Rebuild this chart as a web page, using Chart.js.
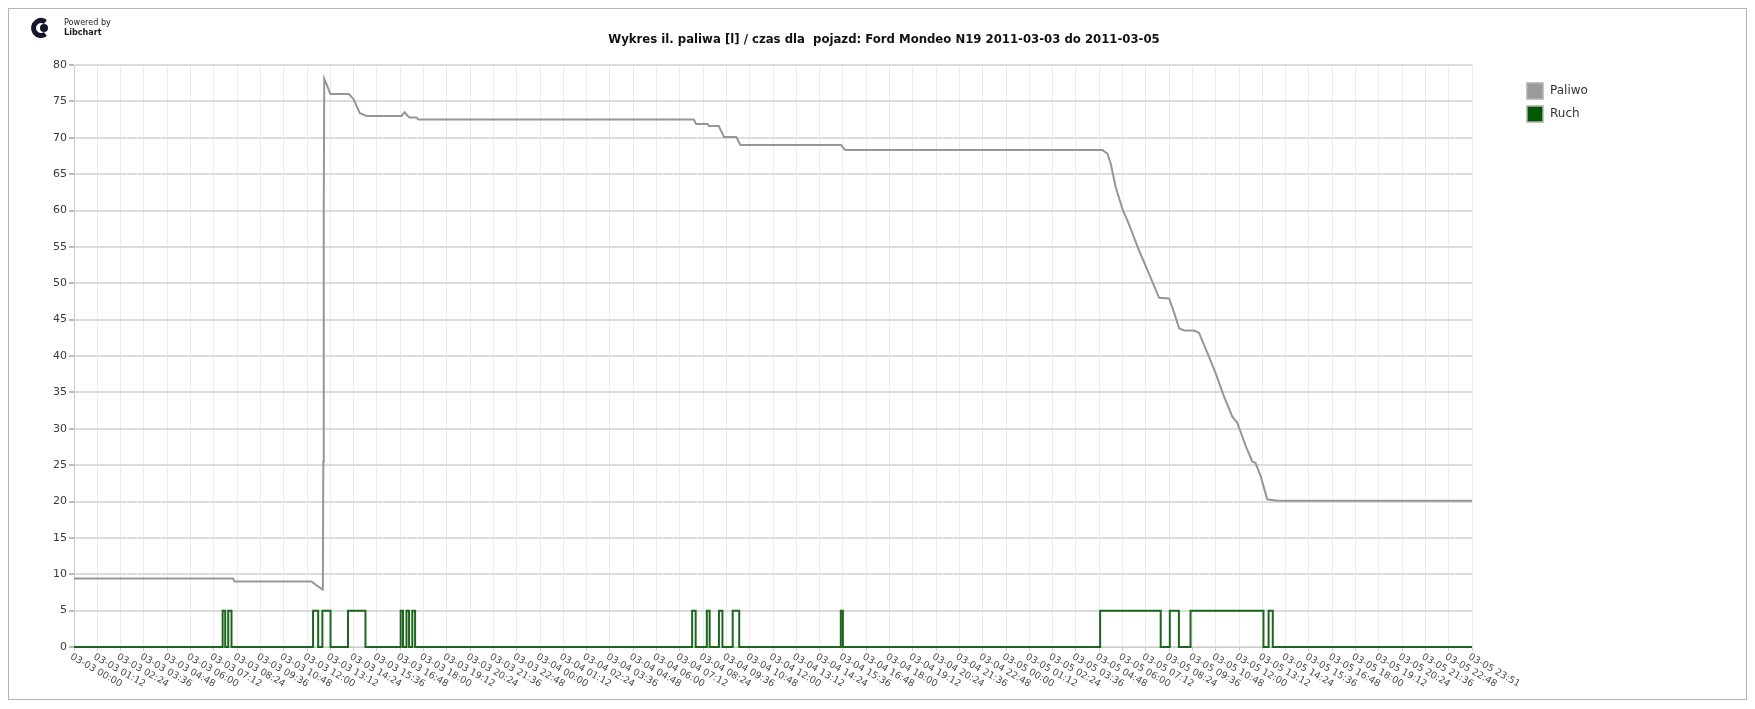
<!DOCTYPE html>
<html>
<head>
<meta charset="utf-8">
<script src="https://cdn.jsdelivr.net/npm/chart.js@4.4.0/dist/chart.umd.min.js"></script>
<style>
  html, body { margin: 0; padding: 0; background: #fff; }
</style>
</head>
<body>
<canvas id="chart" width="1755" height="709"></canvas>
<script>
const chartTitle = 'Wykres il. paliwa [l] / czas dla  pojazd: Ford Mondeo N19 2011-03-03 do 2011-03-05';
const seriesNames = ['Paliwo', 'Ruch'];
const seriesColors = ['#969696', '#1d661d'];
const legendColors = ['#9a9a9a', '#005800'];

// one label per grid column (x = label index)
const timeLabels = [
  '03-03 00:00', '03-03 01:12', '03-03 02:24', '03-03 03:36', '03-03 04:48',
  '03-03 06:00', '03-03 07:12', '03-03 08:24', '03-03 09:36', '03-03 10:48',
  '03-03 12:00', '03-03 13:12', '03-03 14:24', '03-03 15:36', '03-03 16:48',
  '03-03 18:00', '03-03 19:12', '03-03 20:24', '03-03 21:36', '03-03 22:48',
  '03-04 00:00', '03-04 01:12', '03-04 02:24', '03-04 03:36', '03-04 04:48',
  '03-04 06:00', '03-04 07:12', '03-04 08:24', '03-04 09:36', '03-04 10:48',
  '03-04 12:00', '03-04 13:12', '03-04 14:24', '03-04 15:36', '03-04 16:48',
  '03-04 18:00', '03-04 19:12', '03-04 20:24', '03-04 21:36', '03-04 22:48',
  '03-05 00:00', '03-05 01:12', '03-05 02:24', '03-05 03:36', '03-05 04:48',
  '03-05 06:00', '03-05 07:12', '03-05 08:24', '03-05 09:36', '03-05 10:48',
  '03-05 12:00', '03-05 13:12', '03-05 14:24', '03-05 15:36', '03-05 16:48',
  '03-05 18:00', '03-05 19:12', '03-05 20:24', '03-05 21:36', '03-05 22:48',
  '03-05 23:51'
];

// Paliwo (fuel, litres)
const fuelX = [0, 6.82, 6.9, 10.19, 10.66, 10.68, 10.70, 10.72, 10.74, 10.85,
  11.0, 11.8, 12.0, 12.26, 12.55, 14.05, 14.19, 14.32, 14.4, 14.7,
  14.77, 26.6, 26.7, 27.2, 27.25, 27.67, 27.9, 28.42, 28.6, 32.92,
  33.1, 44.14, 44.36, 44.5, 44.71, 45.0, 45.28, 45.71, 46.14, 46.57,
  47.0, 47.21, 47.43, 47.64, 48.07, 48.28, 48.71, 49.0, 49.36, 49.71,
  49.93, 50.29, 50.57, 50.71, 50.93, 51.21, 51.64, 60];
const fuelY = [9.4, 9.4, 9.0, 9.0, 7.9, 8.0, 25.5, 60.5, 78.1, 77.3,
  76.0, 76.0, 75.3, 73.4, 73.0, 73.0, 73.5, 73.0, 72.8, 72.8,
  72.5, 72.5, 71.9, 71.9, 71.6, 71.6, 70.1, 70.1, 69.0, 69.0,
  68.3, 68.3, 67.8, 66.35, 63.2, 60.2, 58.1, 54.5, 51.3, 48.0,
  47.9, 46.0, 43.8, 43.5, 43.5, 43.2, 39.9, 37.6, 34.4, 31.7,
  30.8, 27.6, 25.5, 25.3, 23.5, 20.3, 20.1, 20.1];

// Ruch (movement on/off), step points
const ruchX = [0, 6.38, 6.49, 6.62, 6.76, 10.26, 10.48, 10.66, 11.01, 11.76,
  12.51, 14.02, 14.12, 14.27, 14.38, 14.52, 14.64, 26.53, 26.68, 27.16,
  27.28, 27.68, 27.83, 28.27, 28.55, 32.91, 33.0, 44.04, 46.64, 47.03,
  47.42, 47.92, 51.05, 51.27, 51.45, 60];
const ruchY = [0, 5, 0, 5, 0, 5, 0, 5, 0, 5,
  0, 5, 0, 5, 0, 5, 0, 5, 0, 5,
  0, 5, 0, 5, 0, 5, 0, 5, 0, 5,
  0, 5, 0, 5, 0, 0];

const toPoints = (xs, ys) => xs.map((x, i) => ({x: x, y: ys[i]}));

// title, logo, legend, frame and slanted time labels
const decorations = {
  id: 'decorations',
  afterDraw(chart) {
    const ctx = chart.ctx;
    const xs = chart.scales.x;
    const base = chart.scales.y.getPixelForValue(0);
    ctx.save();

    ctx.strokeStyle = '#b4b4b4';
    ctx.lineWidth = 1;
    ctx.strokeRect(8.5, 8.5, 1738, 691);

    // logo
    ctx.strokeStyle = '#15152e';
    ctx.lineWidth = 5;
    ctx.beginPath();
    ctx.arc(41, 28, 7.5, Math.PI * 0.3, Math.PI * 1.7);
    ctx.stroke();
    ctx.fillStyle = '#15152e';
    ctx.beginPath();
    ctx.arc(44, 28, 4, 0, Math.PI * 2);
    ctx.fill();
    ctx.fillStyle = '#222';
    ctx.textAlign = 'left';
    ctx.textBaseline = 'middle';
    ctx.font = '9px "DejaVu Sans Condensed"';
    ctx.fillText('Powered by', 64, 23);
    ctx.font = 'bold 9px "DejaVu Sans Condensed"';
    ctx.fillText('Libchart', 64, 33);

    // title
    ctx.font = 'bold 13px "DejaVu Sans Condensed"';
    ctx.fillStyle = '#111';
    ctx.textAlign = 'center';
    ctx.fillText(chartTitle, 884, 40);

    // legend
    ctx.font = '12px "DejaVu Sans"';
    ctx.textAlign = 'left';
    seriesNames.forEach((name, i) => {
      const top = 83 + i * 23;
      ctx.fillStyle = legendColors[i];
      ctx.fillRect(1527, top, 16, 16);
      ctx.strokeStyle = '#b0b0b0';
      ctx.lineWidth = 1.5;
      ctx.strokeRect(1527, top, 16, 16);
      ctx.fillStyle = '#333';
      ctx.fillText(name, 1550, top + 8);
    });

    // x labels
    ctx.font = '9.5px "DejaVu Sans"';
    ctx.fillStyle = '#4a4a4a';
    timeLabels.forEach((lab, i) => {
      const px = xs.getPixelForValue(i);
      ctx.save();
      ctx.translate(px - 3, base + 9);
      ctx.rotate(30 * Math.PI / 180);
      ctx.fillText(lab, 0, 0);
      ctx.restore();
    });
    ctx.restore();
  }
};

new Chart(document.getElementById('chart'), {
  type: 'line',
  data: {
    datasets: [
      {
        label: seriesNames[0],
        data: toPoints(fuelX, fuelY),
        borderColor: seriesColors[0],
        backgroundColor: legendColors[0],
        borderWidth: 2,
        pointRadius: 0,
        tension: 0,
        clip: false
      },
      {
        label: seriesNames[1],
        data: toPoints(ruchX, ruchY),
        borderColor: seriesColors[1],
        backgroundColor: legendColors[1],
        borderWidth: 2,
        pointRadius: 0,
        stepped: true,
        clip: false
      }
    ]
  },
  options: {
    responsive: false,
    animation: false,
    layout: { padding: { left: 0, top: 65, right: 283, bottom: 0 } },
    plugins: {
      legend: { display: false },
      title: { display: false },
      tooltip: { enabled: false }
    },
    scales: {
      x: {
        type: 'linear',
        min: 0,
        max: 60,
        ticks: { stepSize: 1, display: false },
        grid: { color: '#ececec', lineWidth: 1, tickLength: 4, tickColor: '#cfcfcf' },
        border: { color: '#cccccc' },
        afterFit: (scale) => { scale.height = 62; }
      },
      y: {
        min: 0,
        max: 80,
        ticks: {
          stepSize: 5,
          padding: 2,
          color: '#3a3a3a',
          font: { family: '"DejaVu Sans"', size: 11 }
        },
        grid: { color: '#dcdcdc', lineWidth: 2, tickLength: 5, tickColor: '#bbbbbb' },
        border: { color: '#cccccc' },
        afterFit: (scale) => { scale.width = 74; }
      }
    }
  },
  plugins: [decorations]
});
</script>
</body>
</html>
